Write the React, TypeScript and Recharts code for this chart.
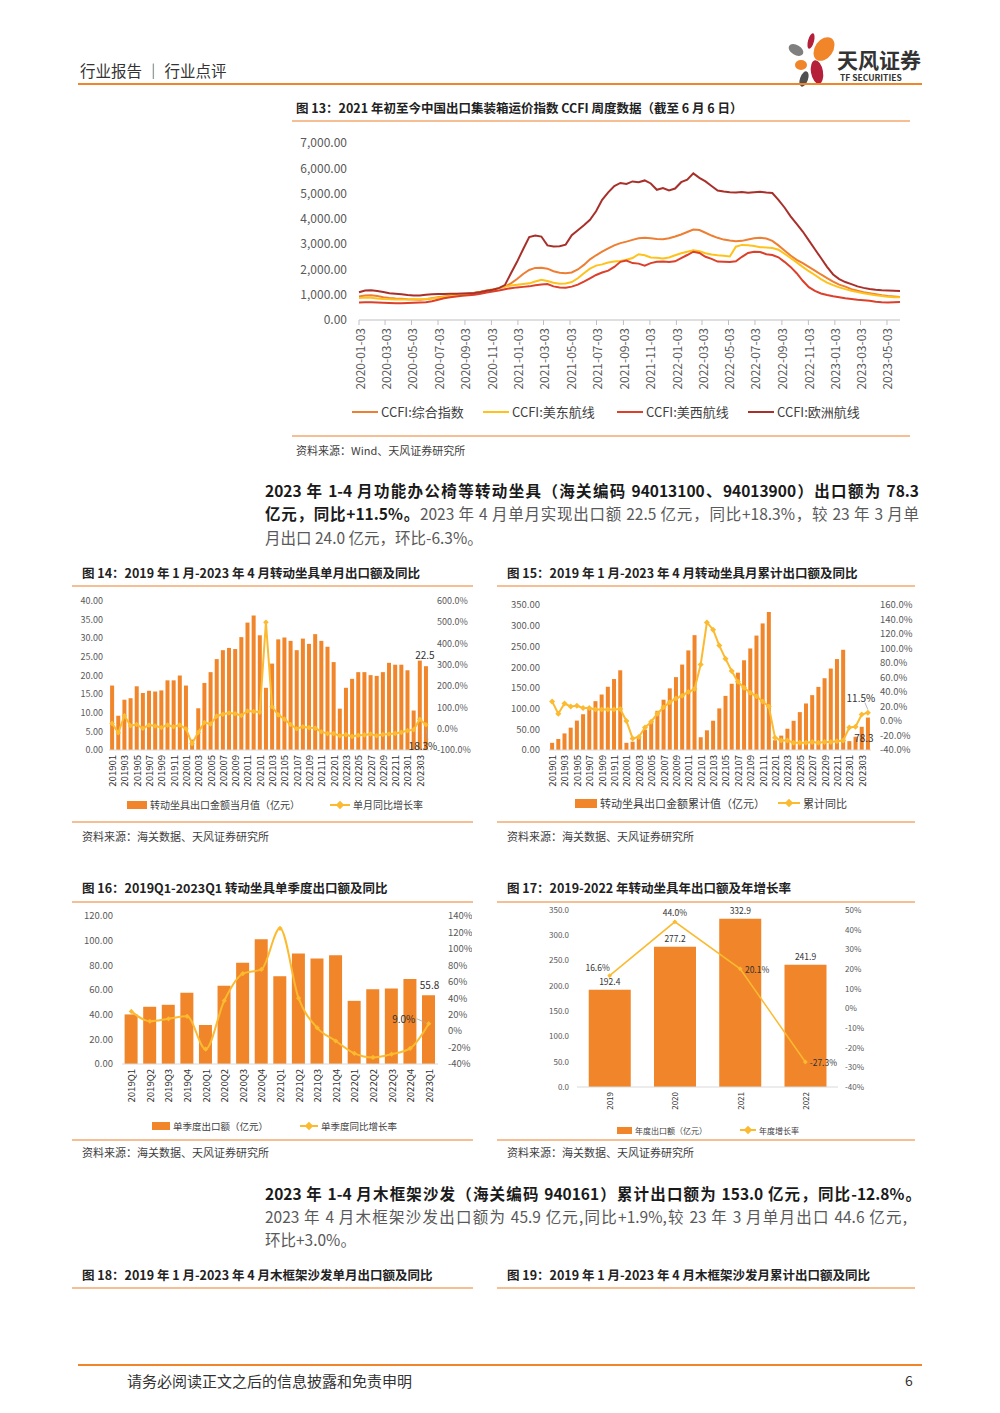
import React from "react";
import { ComposedChart, LineChart, Line, Bar, XAxis, YAxis, LabelList } from "recharts";

const FONT = "'Noto Sans CJK SC', 'Noto Sans', sans-serif";
const BAR = "#F0852A";
const GOLD = "#FBBA30";
const AXIS_TXT = "#595959";
const RULE = "#F0852A";
const SOFT = "#F6BE93";

// ---------- 图13 CCFI 周度（双周取样）----------
const ccfiStart = "2020-01-03";
const ccfiStepDays = 14;
const ccfiTicks = [
  "2020-01-03", "2020-03-03", "2020-05-03", "2020-07-03", "2020-09-03", "2020-11-03",
  "2021-01-03", "2021-03-03", "2021-05-03", "2021-07-03", "2021-09-03", "2021-11-03",
  "2022-01-03", "2022-03-03", "2022-05-03", "2022-07-03", "2022-09-03", "2022-11-03",
  "2023-01-03", "2023-03-03", "2023-05-03",
];
const ccfiComposite = [
  930, 970, 980, 950, 900, 870, 850, 840, 820, 810,
  800, 820, 860, 900, 930, 960, 990, 1010, 1040, 1080,
  1120, 1170, 1210, 1260, 1320, 1450, 1620, 1820, 1980, 2060,
  2070, 2030, 1930, 1870, 1850, 1880, 2000, 2180, 2400, 2560,
  2700, 2830, 2950, 3040, 3100, 3170, 3230, 3250, 3230, 3200,
  3190, 3230, 3300, 3380, 3480, 3580, 3560, 3450, 3340, 3250,
  3180, 3140, 3110, 3130, 3180, 3230, 3250, 3220, 3130, 2950,
  2750, 2550, 2380, 2250, 2100, 1950, 1800, 1660, 1520, 1400,
  1320, 1220, 1160, 1100, 1060, 1020, 980, 950, 930, 910,
];
const ccfiEast = [
  870, 890, 880, 850, 830, 820, 815, 810, 815, 820,
  825, 830, 850, 880, 910, 940, 980, 1000, 1030, 1070,
  1110, 1160, 1210, 1260, 1320, 1360, 1390, 1420, 1450, 1520,
  1590, 1540, 1470, 1430, 1440, 1500, 1650, 1850, 2030, 2150,
  2200, 2270, 2310, 2330, 2380, 2450, 2600, 2560, 2470, 2460,
  2430, 2470, 2560, 2640, 2700, 2760, 2720, 2640, 2590, 2560,
  2540, 2510, 2900, 2970, 2960, 2930, 2880, 2870, 2850, 2780,
  2620, 2450, 2280, 2100, 1930, 1780, 1620, 1480, 1380, 1290,
  1220, 1160, 1110, 1060, 1020, 980, 950, 920, 900, 895,
];
const ccfiWest = [
  690, 700, 700, 690, 680, 670, 660, 665, 670, 680,
  690, 700, 740, 800, 860, 900, 930, 960, 980, 1000,
  1040, 1090, 1130, 1170, 1220, 1260, 1290, 1310, 1330, 1370,
  1400, 1420, 1330, 1290, 1280, 1320, 1400, 1520, 1650, 1780,
  1880, 1950, 2100, 2300, 2350, 2250, 2230, 2150, 2250, 2300,
  2310, 2290, 2320, 2450, 2570, 2700, 2650, 2500, 2420, 2310,
  2300, 2290, 2320, 2500, 2650, 2700, 2690, 2600, 2570, 2480,
  2300, 2100, 1850, 1550, 1300, 1150, 1050, 990, 940, 900,
  860, 830, 800, 780, 760, 720, 700, 690, 700, 710,
];
const ccfiEurope = [
  1100, 1170, 1180, 1150, 1110, 1060, 1040, 1020, 990, 970,
  965, 1000, 1020, 1030, 1030, 1040, 1040, 1050, 1060, 1070,
  1110, 1160, 1200, 1260, 1380, 1850, 2300, 2800, 3280, 3340,
  3300, 2950, 2910, 2920, 2980, 3350, 3550, 3750, 3960, 4300,
  4750, 5050, 5300, 5420, 5380, 5480, 5450, 5520, 5400, 5150,
  5220, 5120, 5200, 5450, 5550, 5800, 5620, 5480, 5300, 5120,
  5080, 5050, 5040, 5060, 5030, 5050, 5070, 5040, 5020, 4750,
  4450, 4100, 3800, 3500, 3150, 2800, 2450, 2100, 1800, 1620,
  1500, 1420, 1330, 1270, 1230, 1200, 1180, 1170, 1160, 1150,
];
const ccfiSeries = [
  { key: "composite", name: "CCFI:综合指数", color: "#EE7E32" },
  { key: "east", name: "CCFI:美东航线", color: "#FFC21A" },
  { key: "west", name: "CCFI:美西航线", color: "#DC3F2A" },
  { key: "europe", name: "CCFI:欧洲航线", color: "#A8302A" },
];

// ---------- 图14/15 月度 ----------
const months = [
  "201901", "201902", "201903", "201904", "201905", "201906", "201907", "201908", "201909", "201910", "201911", "201912",
  "202001", "202002", "202003", "202004", "202005", "202006", "202007", "202008", "202009", "202010", "202011", "202012",
  "202101", "202102", "202103", "202104", "202105", "202106", "202107", "202108", "202109", "202110", "202111", "202112",
  "202201", "202202", "202203", "202204", "202205", "202206", "202207", "202208", "202209", "202210", "202211", "202212",
  "202301", "202302", "202303", "202304",
];
const monthValue = [
  17.3, 9.2, 13.5, 13.9, 17.1, 15.3, 15.9, 15.7, 16.0, 18.7, 18.7, 20.0,
  17.3, 2.8, 11.2, 18.0, 20.9, 24.4, 26.8, 27.4, 27.1, 30.3, 34.2, 36.1,
  30.8, 16.7, 23.2, 29.7, 30.2, 29.3, 26.8, 29.9, 28.5, 31.1, 29.3, 27.7,
  23.6, 11.1, 16.7, 19.1, 20.9, 20.9, 20.1, 19.9, 20.9, 23.4, 22.9, 22.9,
  21.4, 10.6, 24.0, 22.5,
];
const monthYoY = [
  25, -19, 61, 14, 20, 2, 17, 13, 6, 17, 9, 17,
  0, -70, -17, 29, 22, 59, 68, 74, 70, 62, 83, 81,
  78, 500, 103, 65, 45, 20, 0, 9, 5, 3, -14, -23,
  -23, -33, -28, -36, -31, -29, -25, -33, -27, -25, -22, -17,
  -9, -5, 44, 18.3,
];
const cumValue = [
  17.3, 26.5, 40.0, 53.9, 71.0, 86.3, 102.2, 117.9, 133.9, 152.6, 171.3, 192.4,
  17.3, 20.1, 31.3, 49.3, 70.2, 94.6, 121.4, 148.8, 175.9, 206.2, 240.4, 277.2,
  30.8, 47.5, 70.7, 100.4, 130.6, 159.9, 186.7, 216.6, 245.1, 276.2, 305.5, 332.9,
  23.6, 34.7, 51.4, 70.5, 91.4, 112.3, 132.4, 152.3, 173.2, 196.6, 219.5, 241.9,
  21.4, 32.0, 56.0, 78.3,
];
const cumYoY = [
  27, 10, 24, 20, 21, 18, 18, 16, 16, 16, 16, 16.6,
  0, -24, -22, -9, -1, 10, 19, 26, 31, 35, 40, 44,
  78, 136, 126, 104, 86, 69, 54, 46, 39, 34, 27, 20,
  -23, -27, -27, -30, -30, -30, -29, -30, -29, -29, -28, -27,
  -9, -8, 9, 11.5,
];

// ---------- 图16 季度 ----------
const quarters = [
  "2019Q1", "2019Q2", "2019Q3", "2019Q4", "2020Q1", "2020Q2", "2020Q3", "2020Q4",
  "2021Q1", "2021Q2", "2021Q3", "2021Q4", "2022Q1", "2022Q2", "2022Q3", "2022Q4", "2023Q1",
];
const quarterValue = [40.2, 46.4, 48.0, 57.7, 31.6, 63.4, 82.0, 101.1, 71.2, 89.5, 85.5, 88.2, 51.2, 60.7, 61.2, 69.0, 55.8];
const quarterYoY = [24, 12, 15, 18, -22, 37, 70, 75, 125, 40, 4, -12, -27, -32, -28, -21, 9.0];

// ---------- 图17 年度 ----------
const years = ["2019", "2020", "2021", "2022"];
const yearValue = [192.4, 277.2, 332.9, 241.9];
const yearGrowth = [16.6, 44.0, 20.1, -27.3];

// ---------- 数据表 ----------
const DAY = 86400000;
const t0 = Date.parse(ccfiStart + "T00:00:00Z");
const ccfiData = ccfiComposite.map((v, i) => ({
  t: t0 + i * ccfiStepDays * DAY,
  composite: v,
  east: ccfiEast[i],
  west: ccfiWest[i],
  europe: ccfiEurope[i],
}));
const tEnd = ccfiData[ccfiData.length - 1].t;
const ccfiTickTs = ccfiTicks.map((s) => Date.parse(s + "T00:00:00Z"));
const fmtDate = (t: number) => new Date(t).toISOString().slice(0, 10);

const monthData = months.map((m, i) => ({ m, v: monthValue[i], yoy: monthYoY[i] }));
const cumData = months.map((m, i) => ({ m, v: cumValue[i], yoy: cumYoY[i] }));
const quarterData = quarters.map((q, i) => ({ q, v: quarterValue[i], yoy: quarterYoY[i] }));
const yearData = years.map((y, i) => ({ y, v: yearValue[i], g: yearGrowth[i] }));

const range = (a: number, b: number, s: number) => {
  const out: number[] = [];
  for (let v = a; v <= b + 1e-9; v += s) out.push(Math.round(v * 100) / 100);
  return out;
};

// ---------- 小组件 ----------
function RotTick(props: any) {
  const { x, y, payload, size, fill, fmt } = props;
  const label = fmt ? fmt(payload.value) : payload.value;
  return (
    <text
      x={x}
      y={y}
      transform={`rotate(-90 ${x} ${y})`}
      textAnchor="end"
      dominantBaseline="central"
      fontSize={size}
      fill={fill || "#333"}
      fontFamily={FONT}
    >
      {label}
    </text>
  );
}

const diamond = (r: number, color: string) => (p: any) => {
  const { cx, cy, index } = p;
  if (cx == null || cy == null) return <g key={index} />;
  return (
    <path
      key={index}
      d={`M${cx},${cy - r}L${cx + r},${cy}L${cx},${cy + r}L${cx - r},${cy}Z`}
      fill={color}
    />
  );
};

function T({ x, cy, size, color = "#333", bold = false, w, justify = false, children }: any) {
  const lh = Math.round(size * 1.4);
  return (
    <div
      style={{
        position: "absolute",
        left: x,
        top: cy - lh / 2,
        width: w,
        lineHeight: `${lh}px`,
        fontSize: size,
        color,
        fontWeight: bold ? 700 : 400,
        whiteSpace: justify ? "normal" : "nowrap",
        textAlign: justify ? "justify" : "left",
        textAlignLast: justify ? "justify" : "auto",
      }}
    >
      {children}
    </div>
  );
}

function HLine({ x1, x2, y, h = 1, color = SOFT }: any) {
  return <div style={{ position: "absolute", left: x1, top: y - h / 2, width: x2 - x1, height: h, background: color }} />;
}

function BarKey({ x, cy, w, h, label, size }: any) {
  return (
    <>
      <div style={{ position: "absolute", left: x, top: cy - h / 2, width: w, height: h, background: BAR }} />
      <T x={x + w + 3} cy={cy} size={size} color="#404040">{label}</T>
    </>
  );
}

function LineKey({ x, cy, w, label, size, color = GOLD, thick = 2, marker = true }: any) {
  return (
    <>
      <div style={{ position: "absolute", left: x, top: cy - thick / 2, width: w, height: thick, background: color }} />
      {marker && (
        <div
          style={{
            position: "absolute",
            left: x + w / 2 - 3,
            top: cy - 3,
            width: 6,
            height: 6,
            background: color,
            transform: "rotate(45deg)",
          }}
        />
      )}
      <T x={x + w + 3} cy={cy} size={size} color="#404040">{label}</T>
    </>
  );
}

const SRC = "资料来源：海关数据、天风证券研究所";

// ---------- 图13 ----------
function CcfiChart() {
  return (
    <div style={{ position: "absolute", left: 290, top: 130 }}>
      <LineChart width={630} height={270} data={ccfiData} margin={{ top: 13, right: 20, bottom: 5, left: 0 }}>
        <XAxis
          dataKey="t"
          type="number"
          domain={[t0, tEnd]}
          ticks={ccfiTickTs}
          interval={0}
          height={75}
          stroke="#BFBFBF"
          tickSize={5}
          tickMargin={3}
          tick={(p: any) => <RotTick {...p} size={12} fill={AXIS_TXT} fmt={fmtDate} />}
        />
        <YAxis
          domain={[0, 7000]}
          ticks={range(0, 7000, 1000)}
          interval={0}
          width={69}
          axisLine={false}
          tickLine={false}
          tickSize={0}
          tickMargin={12}
          tick={{ fontSize: 12, fill: AXIS_TXT, fontFamily: FONT }}
          tickFormatter={(v: number) => v.toLocaleString("en-US", { minimumFractionDigits: 2 })}
        />
        {ccfiSeries.map((s) => (
          <Line
            key={s.key}
            dataKey={s.key}
            stroke={s.color}
            strokeWidth={2}
            dot={false}
            isAnimationActive={false}
          />
        ))}
      </LineChart>
    </div>
  );
}

// ---------- 图14 ----------
function MonthlyChart() {
  const n = monthData.length;
  return (
    <div style={{ position: "absolute", left: 72, top: 595 }}>
      <ComposedChart width={400} height={200} data={monthData} margin={{ top: 6, right: 0, bottom: 0, left: 0 }} barCategoryGap="18%">
        <XAxis
          dataKey="m"
          interval={1}
          height={45}
          axisLine={{ stroke: "#D9D9D9" }}
          tickLine={false}
          tickSize={0}
          tickMargin={5}
          tick={(p: any) => <RotTick {...p} size={9.5} fill="#333" />}
        />
        <YAxis
          yAxisId="l"
          domain={[0, 40]}
          ticks={range(0, 40, 5)}
          interval={0}
          width={37}
          axisLine={false}
          tickLine={false}
          tickSize={0}
          tickMargin={6}
          tick={{ fontSize: 9, fill: AXIS_TXT, fontFamily: FONT }}
          tickFormatter={(v: number) => v.toFixed(2)}
        />
        <YAxis
          yAxisId="r"
          orientation="right"
          domain={[-100, 600]}
          ticks={range(-100, 600, 100)}
          interval={0}
          width={43}
          axisLine={false}
          tickLine={false}
          tickSize={0}
          tickMargin={8}
          tick={{ fontSize: 9, fill: AXIS_TXT, fontFamily: FONT }}
          tickFormatter={(v: number) => v.toFixed(1) + "%"}
        />
        <Bar yAxisId="l" dataKey="v" fill={BAR} isAnimationActive={false}>
          <LabelList
            dataKey="v"
            content={(p: any) =>
              p.index === n - 1 ? (
                <text x={p.x + p.width / 2 - 1} y={p.y - 12} textAnchor="middle" dominantBaseline="central" fontSize={10} fill="#333" fontFamily={FONT}>
                  {Number(p.value).toFixed(1)}
                </text>
              ) : null
            }
          />
        </Bar>
        <Line yAxisId="r" dataKey="yoy" stroke={GOLD} strokeWidth={2} dot={diamond(2.8, GOLD)} isAnimationActive={false}>
          <LabelList
            dataKey="yoy"
            content={(p: any) =>
              p.index === n - 1 ? (
                <g>
                  <line x1={p.x + 2} y1={p.y + 15} x2={p.x} y2={p.y + 4} stroke="#A6A6A6" strokeWidth={0.8} />
                  <text x={p.x - 3} y={p.y + 21} textAnchor="middle" dominantBaseline="central" fontSize={10} fill="#333" fontFamily={FONT}>
                    {Number(p.value).toFixed(1)}%
                  </text>
                </g>
              ) : null
            }
          />
        </Line>
      </ComposedChart>
    </div>
  );
}

// ---------- 图15 ----------
function CumulativeChart() {
  const n = cumData.length;
  return (
    <div style={{ position: "absolute", left: 497, top: 595 }}>
      <ComposedChart width={420} height={200} data={cumData} margin={{ top: 10, right: 0, bottom: 0, left: 0 }} barCategoryGap="18%">
        <XAxis
          dataKey="m"
          interval={1}
          height={45}
          axisLine={{ stroke: "#D9D9D9" }}
          tickLine={false}
          tickSize={0}
          tickMargin={5}
          tick={(p: any) => <RotTick {...p} size={9.5} fill="#333" />}
        />
        <YAxis
          yAxisId="l"
          domain={[0, 350]}
          ticks={range(0, 350, 50)}
          interval={0}
          width={52}
          axisLine={false}
          tickLine={false}
          tickSize={0}
          tickMargin={9}
          tick={{ fontSize: 9.5, fill: AXIS_TXT, fontFamily: FONT }}
          tickFormatter={(v: number) => v.toFixed(2)}
        />
        <YAxis
          yAxisId="r"
          orientation="right"
          domain={[-40, 160]}
          ticks={range(-40, 160, 20)}
          interval={0}
          width={46}
          axisLine={false}
          tickLine={false}
          tickSize={0}
          tickMargin={9}
          tick={{ fontSize: 9.5, fill: AXIS_TXT, fontFamily: FONT }}
          tickFormatter={(v: number) => v.toFixed(1) + "%"}
        />
        <Bar yAxisId="l" dataKey="v" fill={BAR} isAnimationActive={false}>
          <LabelList
            dataKey="v"
            content={(p: any) =>
              p.index === n - 1 ? (
                <text x={p.x + p.width / 2 - 4} y={p.y + 20} textAnchor="middle" dominantBaseline="central" fontSize={10} fill="#333" fontFamily={FONT}>
                  {Number(p.value).toFixed(1)}
                </text>
              ) : null
            }
          />
        </Bar>
        <Line yAxisId="r" dataKey="yoy" stroke={GOLD} strokeWidth={2} dot={diamond(3, GOLD)} isAnimationActive={false}>
          <LabelList
            dataKey="yoy"
            content={(p: any) =>
              p.index === n - 1 ? (
                <g>
                  <line x1={p.x - 3} y1={p.y - 10} x2={p.x} y2={p.y - 3} stroke="#A6A6A6" strokeWidth={0.8} />
                  <text x={p.x - 7} y={p.y - 15} textAnchor="middle" dominantBaseline="central" fontSize={10} fill="#333" fontFamily={FONT}>
                    {Number(p.value).toFixed(1)}%
                  </text>
                </g>
              ) : null
            }
          />
        </Line>
      </ComposedChart>
    </div>
  );
}

// ---------- 图16 ----------
function QuarterChart() {
  const n = quarterData.length;
  return (
    <div style={{ position: "absolute", left: 72, top: 900 }}>
      <ComposedChart width={400} height={209} data={quarterData} margin={{ top: 16, right: 0, bottom: 0, left: 0 }} barCategoryGap="14%">
        <XAxis
          dataKey="q"
          interval={0}
          height={45}
          axisLine={{ stroke: "#D9D9D9" }}
          tickLine={false}
          tickSize={0}
          tickMargin={5}
          tick={(p: any) => <RotTick {...p} size={9.5} fill="#333" />}
        />
        <YAxis
          yAxisId="l"
          domain={[0, 120]}
          ticks={range(0, 120, 20)}
          interval={0}
          width={50}
          axisLine={false}
          tickLine={false}
          tickSize={0}
          tickMargin={9}
          tick={{ fontSize: 9.5, fill: AXIS_TXT, fontFamily: FONT }}
          tickFormatter={(v: number) => v.toFixed(2)}
        />
        <YAxis
          yAxisId="r"
          orientation="right"
          domain={[-40, 140]}
          ticks={range(-40, 140, 20)}
          interval={0}
          width={34}
          axisLine={false}
          tickLine={false}
          tickSize={0}
          tickMargin={10}
          tick={{ fontSize: 9.5, fill: AXIS_TXT, fontFamily: FONT }}
          tickFormatter={(v: number) => v.toFixed(0) + "%"}
        />
        <Bar yAxisId="l" dataKey="v" fill={BAR} isAnimationActive={false}>
          <LabelList
            dataKey="v"
            content={(p: any) =>
              p.index === n - 1 ? (
                <text x={p.x + p.width / 2 + 1} y={p.y - 11} textAnchor="middle" dominantBaseline="central" fontSize={10} fill="#333" fontFamily={FONT}>
                  {Number(p.value).toFixed(1)}
                </text>
              ) : null
            }
          />
        </Bar>
        <Line yAxisId="r" type="monotone" dataKey="yoy" stroke={GOLD} strokeWidth={2} dot={diamond(2.6, GOLD)} isAnimationActive={false}>
          <LabelList
            dataKey="yoy"
            content={(p: any) =>
              p.index === n - 1 ? (
                <g>
                  <line x1={p.x - 12} y1={p.y - 5} x2={p.x - 3} y2={p.y - 1} stroke="#A6A6A6" strokeWidth={0.8} />
                  <text x={p.x - 25} y={p.y - 5} textAnchor="middle" dominantBaseline="central" fontSize={10} fill="#333" fontFamily={FONT}>
                    {Number(p.value).toFixed(1)}%
                  </text>
                </g>
              ) : null
            }
          />
        </Line>
      </ComposedChart>
    </div>
  );
}

// ---------- 图17 ----------
const growthLabelPos = [
  { dx: -12, dy: -9 },
  { dx: 0, dy: -10 },
  { dx: 17, dy: 0 },
  { dx: 18, dy: 0 },
];
function YearChart() {
  return (
    <div style={{ position: "absolute", left: 497, top: 900 }}>
      <ComposedChart width={420} height={217} data={yearData} margin={{ top: 10, right: 0, bottom: 0, left: 0 }} barCategoryGap="18%">
        <XAxis
          dataKey="y"
          interval={0}
          height={30}
          axisLine={{ stroke: "#D9D9D9" }}
          tickLine={false}
          tickSize={0}
          tickMargin={5}
          tick={(p: any) => <RotTick {...p} size={8} fill="#333" />}
        />
        <YAxis
          yAxisId="l"
          domain={[0, 350]}
          ticks={range(0, 350, 50)}
          interval={0}
          width={80}
          axisLine={false}
          tickLine={false}
          tickSize={0}
          tickMargin={8}
          tick={{ fontSize: 8, fill: AXIS_TXT, fontFamily: FONT }}
          tickFormatter={(v: number) => v.toFixed(1)}
        />
        <YAxis
          yAxisId="r"
          orientation="right"
          domain={[-40, 50]}
          ticks={range(-40, 50, 10)}
          interval={0}
          width={79}
          axisLine={false}
          tickLine={false}
          tickSize={0}
          tickMargin={7}
          tick={{ fontSize: 8, fill: AXIS_TXT, fontFamily: FONT }}
          tickFormatter={(v: number) => v.toFixed(0) + "%"}
        />
        <Bar yAxisId="l" dataKey="v" fill={BAR} isAnimationActive={false}>
          <LabelList
            dataKey="v"
            content={(p: any) => (
              <text x={p.x + p.width / 2} y={p.y - 9} textAnchor="middle" dominantBaseline="central" fontSize={8.5} fill="#333" fontFamily={FONT}>
                {Number(p.value).toFixed(1)}
              </text>
            )}
          />
        </Bar>
        <Line yAxisId="r" dataKey="g" stroke={GOLD} strokeWidth={1.5} dot={diamond(2.4, GOLD)} isAnimationActive={false}>
          <LabelList
            dataKey="g"
            content={(p: any) => {
              const pos = growthLabelPos[p.index] || { dx: 0, dy: -10 };
              return (
                <text x={p.x + pos.dx} y={p.y + pos.dy} textAnchor="middle" dominantBaseline="central" fontSize={8.5} fill="#333" fontFamily={FONT}>
                  {Number(p.value).toFixed(1)}%
                </text>
              );
            }}
          />
        </Line>
      </ComposedChart>
    </div>
  );
}

function Logo() {
  return (
    <>
      <svg style={{ position: "absolute", left: 784, top: 32 }} width={54} height={56}>
        <ellipse cx={27} cy={9} rx={3} ry={8} fill="#B41F3A" transform="rotate(15 27 9)" />
        <ellipse cx={40} cy={17} rx={9} ry={13} fill="#F0852A" transform="rotate(35 40 17)" />
        <ellipse cx={12} cy={18} rx={8} ry={5} fill="#7F7F7F" transform="rotate(30 12 18)" />
        <ellipse cx={17} cy={33} rx={6} ry={5} fill="#F0852A" />
        <ellipse cx={33} cy={40} rx={6} ry={12} fill="#B41F3A" transform="rotate(-10 33 40)" />
        <ellipse cx={20} cy={47} rx={4} ry={8} fill="#505050" transform="rotate(20 20 47)" />
      </svg>
      <T x={837} cy={59} size={21} bold color="#333">天风证券</T>
      <T x={840} cy={77} size={8.5} bold color="#333">TF SECURITIES</T>
    </>
  );
}

export default function App() {
  const muted = "#595959";
  return (
    <div style={{ position: "absolute", left: 0, top: 0, width: 1000, height: 1413, background: "#fff", fontFamily: FONT, overflow: "hidden" }}>
      {/* 页眉 */}
      <T x={80} cy={70} size={15.5} color="#333">行业报告 ｜ 行业点评</T>
      <Logo />
      <HLine x1={78} x2={922} y={83.5} h={2} color={RULE} />

      {/* 图13 */}
      <T x={296} cy={108} size={12.5} bold color="#222">图 13：2021 年初至今中国出口集装箱运价指数 CCFI 周度数据（截至 6 月 6 日）</T>
      <HLine x1={292} x2={910} y={121} h={1.5} color={SOFT} />
      <CcfiChart />
      {ccfiSeries.map((s, i) => (
        <LineKey key={s.key} x={[352, 483, 617, 748][i]} cy={412} w={26} label={s.name} size={13} color={s.color} thick={2.5} marker={false} />
      ))}
      <HLine x1={292} x2={910} y={436} h={1.5} color={SOFT} />
      <T x={296} cy={450} size={11} color="#404040">资料来源：Wind、天风证券研究所</T>

      {/* 段落1 */}
      <T x={265} cy={490} size={15.5} w={654} justify bold color="#1a1a1a">
        2023 年 1-4 月功能办公椅等转动坐具（海关编码 94013100、94013900）出口额为 78.3
      </T>
      <T x={265} cy={513} size={15.5} w={654} justify>
        <span style={{ fontWeight: 700, color: "#1a1a1a" }}>亿元，同比+11.5%。</span>
        <span style={{ color: muted }}>2023 年 4 月单月实现出口额 22.5 亿元，同比+18.3%，较 23 年 3 月单</span>
      </T>
      <T x={265} cy={537} size={15.5} color={muted}>月出口 24.0 亿元，环比-6.3%。</T>

      {/* 图14 / 图15 */}
      <T x={82} cy={573} size={12.5} bold color="#222">图 14：2019 年 1 月-2023 年 4 月转动坐具单月出口额及同比</T>
      <T x={507} cy={573} size={12.5} bold color="#222">图 15：2019 年 1 月-2023 年 4 月转动坐具月累计出口额及同比</T>
      <HLine x1={72} x2={473} y={586} h={1.5} color={SOFT} />
      <HLine x1={497} x2={915} y={586} h={1.5} color={SOFT} />
      <MonthlyChart />
      <CumulativeChart />
      <BarKey x={127} cy={805} w={20} h={8} label="转动坐具出口金额当月值（亿元）" size={10} />
      <LineKey x={330} cy={805} w={20} label="单月同比增长率" size={10} />
      <BarKey x={575} cy={803} w={22} h={9} label="转动坐具出口金额累计值（亿元）" size={11} />
      <LineKey x={778} cy={803} w={22} label="累计同比" size={11} />
      <HLine x1={72} x2={473} y={822} h={1.5} color={SOFT} />
      <HLine x1={497} x2={915} y={822} h={1.5} color={SOFT} />
      <T x={82} cy={836} size={11} color="#404040">{SRC}</T>
      <T x={507} cy={836} size={11} color="#404040">{SRC}</T>

      {/* 图16 / 图17 */}
      <T x={82} cy={888} size={12.5} bold color="#222">图 16：2019Q1-2023Q1 转动坐具单季度出口额及同比</T>
      <T x={507} cy={888} size={12.5} bold color="#222">图 17：2019-2022 年转动坐具年出口额及年增长率</T>
      <HLine x1={72} x2={473} y={902} h={1.5} color={SOFT} />
      <HLine x1={497} x2={915} y={902} h={1.5} color={SOFT} />
      <QuarterChart />
      <YearChart />
      <BarKey x={152} cy={1126} w={18} h={8} label="单季度出口额（亿元）" size={9.5} />
      <LineKey x={300} cy={1126} w={18} label="单季度同比增长率" size={9.5} />
      <BarKey x={617} cy={1130} w={15} h={7} label="年度出口额（亿元）" size={8} />
      <LineKey x={740} cy={1130} w={16} label="年度增长率" size={8} thick={1.5} />
      <HLine x1={72} x2={473} y={1140} h={1.5} color={SOFT} />
      <HLine x1={497} x2={915} y={1140} h={1.5} color={SOFT} />
      <T x={82} cy={1152} size={11} color="#404040">{SRC}</T>
      <T x={507} cy={1152} size={11} color="#404040">{SRC}</T>

      {/* 段落2 */}
      <T x={265} cy={1193} size={15.5} w={656} justify bold color="#1a1a1a">
        2023 年 1-4 月木框架沙发（海关编码 940161）累计出口额为 153.0 亿元，同比-12.8%。
      </T>
      <T x={265} cy={1216} size={15.5} w={642} justify color={muted}>
        2023 年 4 月木框架沙发出口额为 45.9 亿元,同比+1.9%,较 23 年 3 月单月出口 44.6 亿元,
      </T>
      <T x={265} cy={1239} size={15.5} color={muted}>环比+3.0%。</T>

      {/* 图18 / 图19 标题 */}
      <T x={82} cy={1275} size={12.5} bold color="#222">图 18：2019 年 1 月-2023 年 4 月木框架沙发单月出口额及同比</T>
      <T x={507} cy={1275} size={12.5} bold color="#222">图 19：2019 年 1 月-2023 年 4 月木框架沙发月累计出口额及同比</T>
      <HLine x1={72} x2={473} y={1288} h={1.5} color={SOFT} />
      <HLine x1={497} x2={915} y={1288} h={1.5} color={SOFT} />

      {/* 页脚 */}
      <HLine x1={78} x2={922} y={1365} h={2} color={RULE} />
      <T x={127} cy={1380} size={15} color="#333">请务必阅读正文之后的信息披露和免责申明</T>
      <T x={905} cy={1380} size={14} color="#333">6</T>
    </div>
  );
}
